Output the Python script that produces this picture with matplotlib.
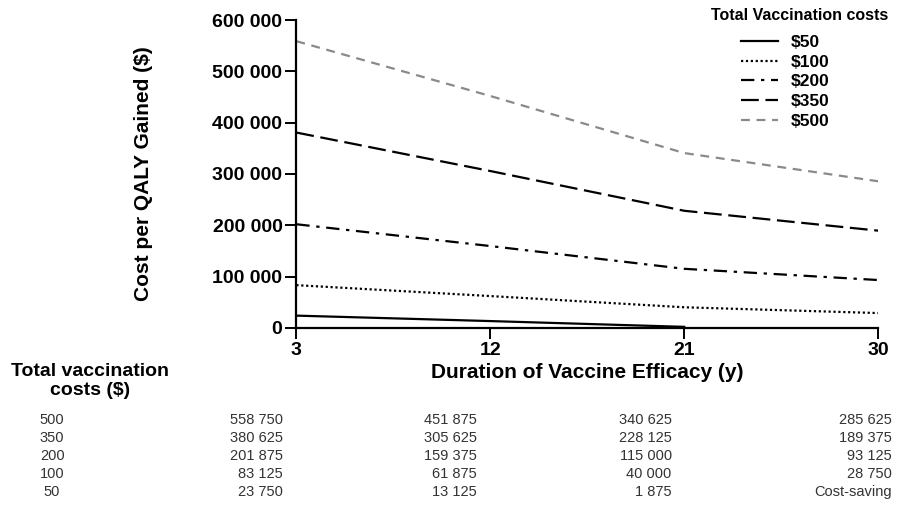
import numpy as np
import matplotlib.pyplot as plt

durations = [3, 12, 21, 30]
cost_levels = ["500", "350", "200", "100", "50"]
legend_labels = ["$50", "$100", "$200", "$350", "$500"]

icer_500 = [558750, 451875, 340625, 285625]
icer_350 = [380625, 305625, 228125, 189375]
icer_200 = [201875, 159375, 115000, 93125]
icer_100 = [83125, 61875, 40000, 28750]
icer_50 = [23750, 13125, 1875, np.nan]  # cost-saving at 30 y

table_text = [
    ["558 750", "451 875", "340 625", "285 625"],
    ["380 625", "305 625", "228 125", "189 375"],
    ["201 875", "159 375", "115 000", "93 125"],
    ["83 125", "61 875", "40 000", "28 750"],
    ["23 750", "13 125", "1 875", "Cost-saving"],
]

plt.rcParams["font.family"] = ["Liberation Sans", "DejaVu Sans"]

fig = plt.figure(figsize=(8.98, 5.13), dpi=100)
ax = fig.add_axes([0.330, 0.361, 0.648, 0.600])

series = [
    (icer_50, "-", "black", legend_labels[0]),
    (icer_100, (0, (1, 1.2)), "black", legend_labels[1]),
    (icer_200, (0, (6, 3, 1.5, 3)), "black", legend_labels[2]),
    (icer_350, (0, (8, 3)), "black", legend_labels[3]),
    (icer_500, (0, (4, 3)), "#8a8a8a", legend_labels[4]),
]
for vals, ls, col, lab in series:
    ax.plot(durations, vals, linestyle=ls, color=col, linewidth=1.6, label=lab)

ax.set_xlim(3, 30)
ax.set_ylim(0, 600000)
ax.set_xticks(durations)
ax.set_yticks(np.arange(0, 600001, 100000))
ax.set_yticklabels(["0", "100 000", "200 000", "300 000", "400 000", "500 000", "600 000"])
for s in ["top", "right"]:
    ax.spines[s].set_visible(False)
for s in ["left", "bottom"]:
    ax.spines[s].set_linewidth(1.6)
ax.tick_params(direction="out", length=8, width=1.4, labelsize=14, pad=2)
for t in ax.get_xticklabels() + ax.get_yticklabels():
    t.set_fontweight("bold")

ax.set_xlabel("Duration of Vaccine Efficacy (y)", fontsize=15, fontweight="bold", labelpad=3)
ax.set_ylabel("Cost per QALY Gained ($)", fontsize=15, fontweight="bold", labelpad=43)

fig.text(0.891, 0.970, "Total Vaccination costs", ha="center", va="center",
         fontsize=11.5, fontweight="bold")
leg = ax.legend(loc="upper left", bbox_to_anchor=(0.75, 0.98),
                frameon=False, handlelength=2.1, handletextpad=0.75, labelspacing=0.26,
                borderpad=0, prop={"weight": "bold", "size": 12.5})

# table below the chart
fig.text(0.100, 0.293, "Total vaccination\ncosts ($)", ha="center", va="top",
         fontsize=14, fontweight="bold", linespacing=1.2)
col_x = [0.315, 0.531, 0.748, 0.993]
row_y = [0.181, 0.146, 0.111, 0.076, 0.041]
for i, lvl in enumerate(cost_levels):
    fig.text(0.058, row_y[i], lvl, ha="center", va="center", fontsize=10.5, color="#333333")
    for j, txt in enumerate(table_text[i]):
        fig.text(col_x[j], row_y[i], txt, ha="right", va="center", fontsize=10.5,
                 color="#333333")

fig.savefig("out.png", dpi=100)
